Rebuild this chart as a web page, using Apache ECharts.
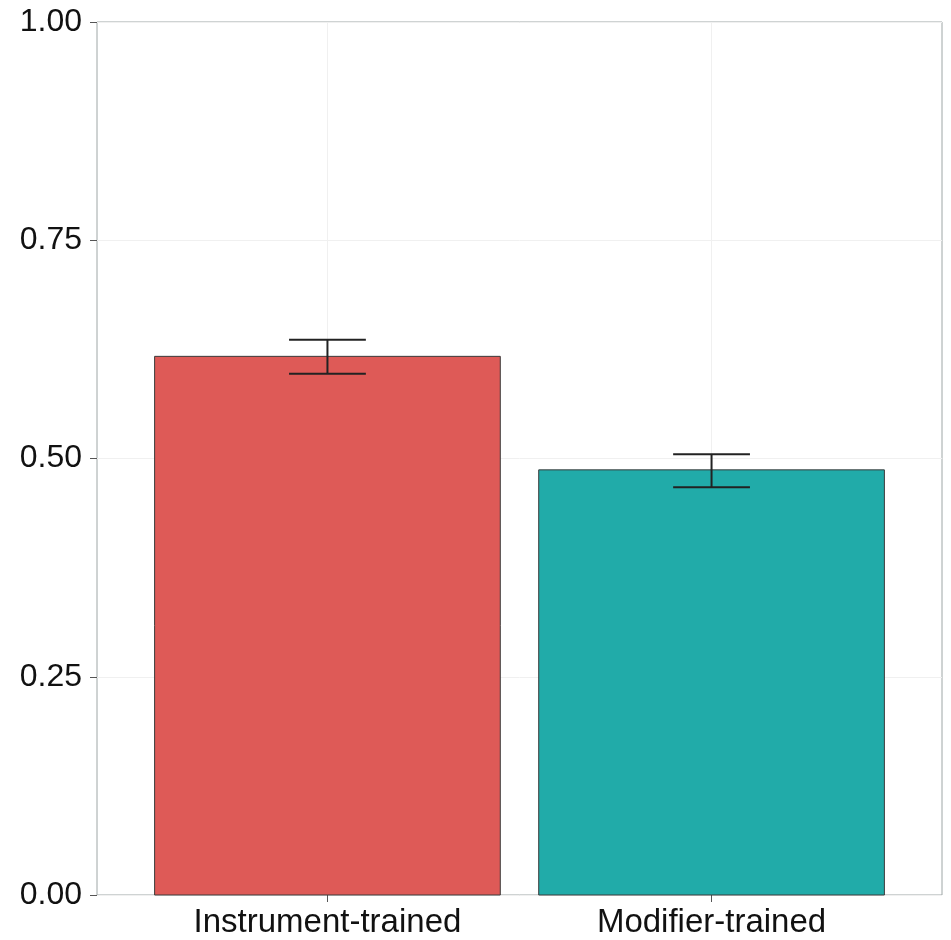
<!DOCTYPE html>
<html>
<head>
<meta charset="utf-8">
<script src="https://cdn.jsdelivr.net/npm/echarts@6/dist/echarts.min.js"></script>
<style>html,body{margin:0;padding:0;background:#fff}#c{width:951px;height:940px}</style>
</head>
<body>
<div id="c"></div>
<script>
const categories = ["Instrument-trained", "Modifier-trained"];
const means = [0.617, 0.487];
const errLow = [0.597, 0.467];
const errHigh = [0.636, 0.505];
const barColors = ["#de5a57", "#21aba9"];

const chart = echarts.init(document.getElementById('c'));
const positions = categories.map((c, i) => i + 1);
const barData = categories.map((c, i) => [positions[i], means[i], errLow[i], errHigh[i], i]);
const fontFam = '"Liberation Sans", Arial, sans-serif';

chart.setOption({
  animation: false,
  backgroundColor: '#fff',
  grid: {left: 97, right: 9, top: 22, bottom: 45, show: true, borderColor: '#9ea6a6', borderWidth: 1},
  xAxis: {
    type: 'value', min: 0.4, max: 2.6,
    axisLine: {show: false},
    axisTick: {show: true, length: 7, customValues: positions, lineStyle: {color: '#555', width: 1}},
    axisLabel: {customValues: positions, margin: 11, fontSize: 33, color: '#111', fontFamily: fontFam,
      formatter: v => categories[Math.round(v) - 1] || ''},
    splitLine: {show: true, lineStyle: {color: '#f0f0f0', width: 1}}
  },
  yAxis: {
    type: 'value', min: 0, max: 1, interval: 0.25,
    axisLine: {show: false},
    axisTick: {show: true, length: 7, lineStyle: {color: '#555', width: 1}},
    axisLabel: {margin: 15, fontSize: 32, color: '#111', fontFamily: fontFam,
      formatter: v => v.toFixed(2)},
    splitLine: {show: true, lineStyle: {color: '#f0f0f0', width: 1}}
  },
  series: [{
    type: 'custom',
    data: barData,
    encode: {x: 0, y: 1},
    renderItem: function (params, api) {
      const x = api.value(0), m = api.value(1), lo = api.value(2), hi = api.value(3), idx = api.value(4);
      const halfW = 0.45, capW = 0.1;
      const p0 = api.coord([x - halfW, m]);
      const p1 = api.coord([x + halfW, 0]);
      const top = api.coord([x, hi]);
      const bot = api.coord([x, lo]);
      const cl = api.coord([x - capW, hi])[0];
      const cr = api.coord([x + capW, hi])[0];
      const ls = {stroke: '#222', lineWidth: 2};
      return {
        type: 'group',
        children: [
          {type: 'rect', shape: {x: p0[0], y: p0[1], width: p1[0] - p0[0], height: p1[1] - p0[1]},
            style: {fill: barColors[idx], stroke: '#3a3a3a', lineWidth: 1}},
          {type: 'line', shape: {x1: top[0], y1: top[1], x2: bot[0], y2: bot[1]}, style: ls},
          {type: 'line', shape: {x1: cl, y1: top[1], x2: cr, y2: top[1]}, style: ls},
          {type: 'line', shape: {x1: cl, y1: bot[1], x2: cr, y2: bot[1]}, style: ls}
        ]
      };
    }
  }]
});
</script>
</body>
</html>
